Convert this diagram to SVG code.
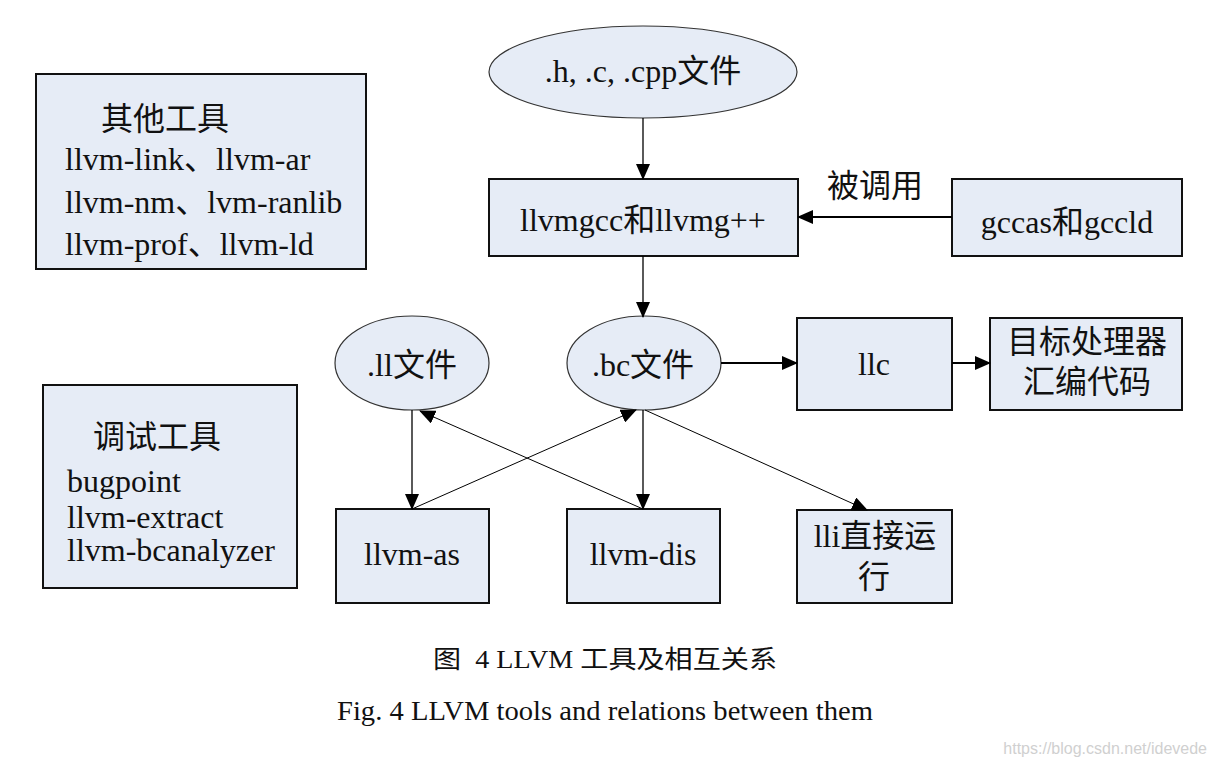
<svg xmlns="http://www.w3.org/2000/svg" width="1214" height="767" viewBox="0 0 1214 767">
<defs>
<marker id="ah" markerUnits="userSpaceOnUse" markerWidth="16" markerHeight="14" viewBox="0 0 16 14" refX="15" refY="7" orient="auto">
<path d="M0,0 L16,7 L0,14 Z" fill="#000"/>
</marker>
</defs>
<style>
.box{fill:#e6ecf6;stroke:#111;stroke-width:2}
.ell{fill:#e6ecf6;stroke:#333;stroke-width:1.2}
.t{font-family:"Liberation Serif","Noto Sans CJK SC",serif;font-size:32px;fill:#111}
.c{text-anchor:middle}
.ln{stroke:#000;stroke-width:1.3;fill:none;marker-end:url(#ah)}
.thick{stroke-width:2.2}
.thin{stroke-width:1}
.cap{font-family:"Liberation Serif","Noto Sans CJK SC",serif;fill:#111}
</style>
<rect width="1214" height="767" fill="#fff"/>

<g id="other-tools">
<rect class="box" x="36" y="74" width="330" height="195"/>
<text class="t" x="101" y="130">其他工具</text>
<text class="t" x="65" y="170">llvm-link、llvm-ar</text>
<text class="t" x="65" y="213">llvm-nm、lvm-ranlib</text>
<text class="t" x="65" y="255">llvm-prof、llvm-ld</text>
</g>

<g id="debug-tools">
<rect class="box" x="43" y="385" width="254" height="203"/>
<text class="t" x="93" y="448">调试工具</text>
<text class="t" x="67" y="492">bugpoint</text>
<text class="t" x="67" y="528">llvm-extract</text>
<text class="t" x="67" y="561">llvm-bcanalyzer</text>
</g>

<g id="source-files">
<ellipse class="ell" cx="643" cy="72" rx="154" ry="46"/>
<text class="t c" x="643" y="82">.h, .c, .cpp文件</text>
</g>

<g id="llvmgcc">
<rect class="box" x="489" y="179" width="309" height="77"/>
<text class="t c" x="643" y="231">llvmgcc和llvmg++</text>
</g>

<g id="gccas">
<rect class="box" x="952" y="179" width="230" height="77"/>
<text class="t c" x="1067" y="233">gccas和gccld</text>
</g>

<g id="ll-file">
<ellipse class="ell" cx="412" cy="363" rx="77" ry="47"/>
<text class="t c" x="412" y="376">.ll文件</text>
</g>

<g id="bc-file">
<ellipse class="ell" cx="644" cy="363" rx="77" ry="47"/>
<text class="t c" x="643" y="376">.bc文件</text>
</g>

<g id="llc">
<rect class="box" x="797" y="318" width="155" height="92"/>
<text class="t c" x="874" y="375">llc</text>
</g>

<g id="target-asm">
<rect class="box" x="990" y="318" width="192" height="92"/>
<text class="t c" x="1087" y="353">目标处理器</text>
<text class="t c" x="1087" y="393">汇编代码</text>
</g>

<g id="llvm-as">
<rect class="box" x="336" y="509" width="153" height="94"/>
<text class="t c" x="412" y="565">llvm-as</text>
</g>

<g id="llvm-dis">
<rect class="box" x="567" y="509" width="153" height="94"/>
<text class="t c" x="643" y="565">llvm-dis</text>
</g>

<g id="lli">
<rect class="box" x="797" y="510" width="155" height="93"/>
<text class="t c" x="875" y="547">lli直接运</text>
<text class="t c" x="874" y="588">行</text>
</g>

<g id="connectors">
<line class="ln" x1="643" y1="118" x2="643" y2="179"/>
<line class="ln thick" x1="952" y1="217" x2="798" y2="217"/>
<text class="t" x="827" y="197">被调用</text>
<line class="ln" x1="643" y1="256" x2="643" y2="317"/>
<line class="ln thick" x1="721" y1="363" x2="797" y2="363"/>
<line class="ln thick" x1="952" y1="363" x2="990" y2="363"/>
<line class="ln" x1="412" y1="410" x2="412" y2="509"/>
<line class="ln" x1="643" y1="410" x2="643" y2="509"/>
<line class="ln thin" x1="412" y1="509" x2="636" y2="410"/>
<line class="ln thin" x1="643" y1="509" x2="420" y2="411"/>
<line class="ln thin" x1="645" y1="410" x2="867" y2="510"/>
</g>

<g id="captions">
<text class="cap" x="433" y="668" font-size="25" style="white-space:pre" textLength="344" lengthAdjust="spacingAndGlyphs">图  4 LLVM 工具及相互关系</text>
<text class="cap" x="337" y="720" font-size="28" textLength="536" lengthAdjust="spacingAndGlyphs">Fig. 4 LLVM tools and relations between them</text>
<text x="1207" y="754" font-family="Liberation Sans, sans-serif" font-size="16" fill="#d0d0d0" text-anchor="end">https://blog.csdn.net/idevede</text>
</g>
</svg>
